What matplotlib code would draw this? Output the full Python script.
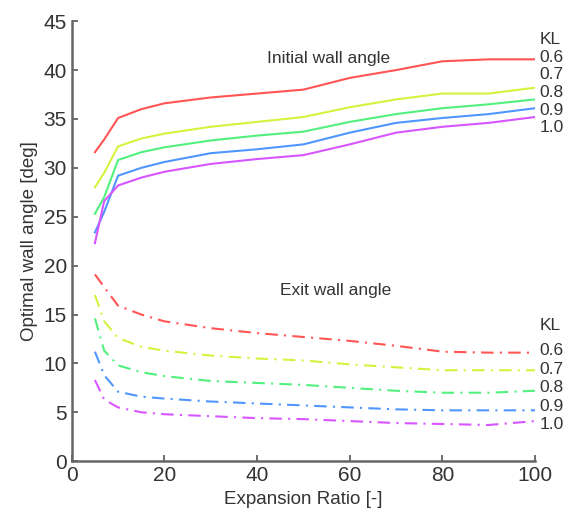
# optimal wall angle vs expansion ratio

import matplotlib.pyplot as plt
import numpy as np

plt.rcParams['font.family'] = ['Liberation Sans', 'DejaVu Sans']

expansion = [5, 7, 10, 15, 20, 30, 40, 50, 60, 70, 80, 90, 100]
kl_labels = ['0.6', '0.7', '0.8', '0.9', '1.0']
colors = ['#ff5555', '#d6f23e', '#52f07e', '#5096ff', '#d855ff']

# initial wall angle [deg], one list per KL
initial_06 = [31.6, 32.9, 35.1, 36.0, 36.6, 37.2, 37.6, 38.0, 39.2, 40.0, 40.9, 41.1, 41.1]
initial_07 = [28.0, 29.5, 32.2, 33.0, 33.5, 34.2, 34.7, 35.2, 36.2, 37.0, 37.6, 37.6, 38.2]
initial_08 = [25.3, 27.0, 30.8, 31.6, 32.1, 32.8, 33.3, 33.7, 34.7, 35.5, 36.1, 36.5, 37.0]
initial_09 = [23.4, 25.5, 29.2, 30.0, 30.6, 31.5, 31.9, 32.4, 33.6, 34.6, 35.1, 35.5, 36.1]
initial_10 = [22.3, 26.6, 28.2, 29.0, 29.6, 30.4, 30.9, 31.3, 32.4, 33.6, 34.2, 34.6, 35.2]

# exit wall angle [deg]
exit_06 = [19.1, 17.8, 15.9, 15.0, 14.3, 13.6, 13.1, 12.7, 12.3, 11.8, 11.2, 11.1, 11.1]
exit_07 = [17.0, 14.3, 12.6, 11.7, 11.3, 10.8, 10.5, 10.3, 9.9, 9.6, 9.3, 9.3, 9.3]
exit_08 = [14.6, 11.3, 9.8, 9.1, 8.7, 8.2, 8.0, 7.8, 7.5, 7.2, 7.0, 7.0, 7.2]
exit_09 = [11.2, 8.8, 7.1, 6.6, 6.4, 6.1, 5.9, 5.7, 5.5, 5.3, 5.2, 5.2, 5.2]
exit_10 = [8.3, 6.3, 5.5, 5.0, 4.8, 4.6, 4.4, 4.3, 4.1, 3.9, 3.8, 3.7, 4.1]

initial = [initial_06, initial_07, initial_08, initial_09, initial_10]
exits = [exit_06, exit_07, exit_08, exit_09, exit_10]

fig = plt.figure(figsize=(5.65, 5.17), dpi=100)
ax = fig.add_axes([0.127, 0.108, 0.82, 0.851])

for c, yi, ye in zip(colors, initial, exits):
    ax.plot(expansion, yi, color=c, lw=1.5)
    ax.plot(expansion, ye, color=c, lw=1.5, dashes=(6, 3, 1, 3))

txt = '#333333'
ax.text(55.5, 41.2, 'Initial wall angle', fontsize=12.5, color=txt, ha='center', va='center')
ax.text(57, 17.5, 'Exit wall angle', fontsize=12.5, color=txt, ha='center', va='center')

# KL labels at the right edge
ax.text(101, 43.1, 'KL', fontsize=12.5, color=txt, va='center', clip_on=False)
for lab, yy in zip(kl_labels, [41.3, 39.5, 37.7, 35.9, 34.1]):
    ax.text(101, yy, lab, fontsize=12.5, color=txt, va='center', clip_on=False)
ax.text(101, 13.9, 'KL', fontsize=12.5, color=txt, va='center', clip_on=False)
for lab, yy in zip(kl_labels, [11.3, 9.4, 7.5, 5.6, 3.7]):
    ax.text(101, yy, lab, fontsize=12.5, color=txt, va='center', clip_on=False)

ax.set_xlim(0, 100)
ax.set_ylim(0, 45)
ax.set_xticks(np.arange(0, 101, 20))
ax.set_yticks(np.arange(0, 46, 5))
ax.set_xlabel('Expansion Ratio [-]', fontsize=13.5, color=txt)
ax.set_ylabel('Optimal wall angle [deg]', fontsize=13.5, color=txt)
ax.tick_params(direction='in', length=4, width=1.2, colors='#555555',
               labelsize=15, labelcolor=txt)
for s in ['top', 'right']:
    ax.spines[s].set_visible(False)
for s in ['left', 'bottom']:
    ax.spines[s].set_color('#666666')
    ax.spines[s].set_linewidth(1.8)

fig.savefig('out.png', dpi=100)
